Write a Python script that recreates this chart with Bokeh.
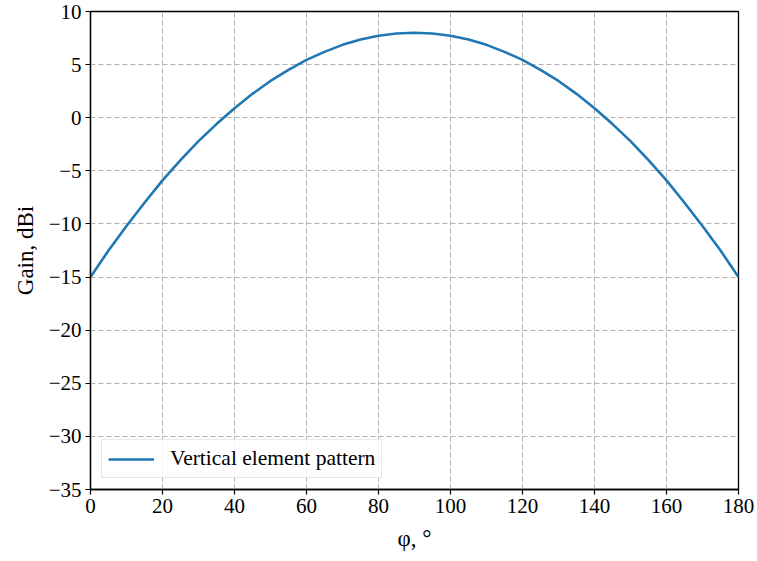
from bokeh.plotting import figure
from bokeh.models import Range1d, FixedTicker, Legend, LegendItem
from bokeh.embed import file_html
from bokeh.resources import INLINE

phi = [0, 5, 10, 15, 20, 25, 30, 35, 40, 45, 50, 55, 60, 65, 70, 75, 80, 85, 90,
       95, 100, 105, 110, 115, 120, 125, 130, 135, 140, 145, 150, 155, 160, 165, 170, 175, 180]
gain = [-15.0, -12.5, -10.2, -8.0, -5.9, -4.0, -2.2, -0.6, 0.9, 2.25, 3.46, 4.5, 5.44, 6.2, 6.86, 7.36, 7.72, 7.93, 8.0,
        7.93, 7.72, 7.36, 6.86, 6.2, 5.44, 4.5, 3.46, 2.25, 0.9, -0.6, -2.2, -4.0, -5.9, -8.0, -10.2, -12.5, -15.0]
x_ticks = [0, 20, 40, 60, 80, 100, 120, 140, 160, 180]
y_ticks = [-35, -30, -25, -20, -15, -10, -5, 0, 5, 10]
series_name = "Vertical element pattern"

FONT = "Liberation Serif"

p = figure(width=757, height=561, output_backend="svg", toolbar_location=None,
           x_range=Range1d(0, 180), y_range=Range1d(-35, 10),
           min_border_left=90, min_border_right=19, min_border_top=11, min_border_bottom=72)
p.outline_line_color = "black"
p.outline_line_width = 1.3
p.background_fill_color = "white"
p.border_fill_color = "white"

r = p.line(phi, gain, line_color="#1f77b4", line_width=2.6)

for ax, ticks in ((p.xaxis, x_ticks), (p.yaxis, y_ticks)):
    ax.ticker = FixedTicker(ticks=ticks)
    ax.major_label_overrides = {t: (str(t).replace("-", "\u2212")) for t in ticks}
    ax.minor_tick_line_color = None
    ax.major_tick_out = 5
    ax.major_tick_in = 0
    ax.major_tick_line_width = 1.2
    ax.axis_line_width = 1.3
    ax.major_label_text_font = FONT
    ax.major_label_text_font_size = "21px"
    ax.major_label_text_color = "black"
    ax.axis_label_text_font = FONT
    ax.axis_label_text_font_size = "23px"
    ax.axis_label_text_font_style = "normal"
    ax.axis_label_text_color = "black"
    ax.major_label_standoff = 4

p.xaxis.axis_label = "\u03c6, \u00b0"
p.yaxis.axis_label = "Gain, dBi"
p.xaxis.axis_label_standoff = 10
p.yaxis.axis_label_standoff = 8

p.grid.grid_line_color = "#b0b0b0"
p.grid.grid_line_dash = "5 3"
p.grid.grid_line_width = 1

legend = Legend(items=[LegendItem(label=series_name, renderers=[r])],
                location="bottom_left")
legend.label_text_font = FONT
legend.label_text_font_size = "21.5px"
legend.label_text_color = "black"
legend.border_line_color = "#d0d0d0"
legend.border_line_width = 1
legend.background_fill_alpha = 0.85
legend.glyph_width = 46
legend.margin = 11
legend.padding = 6
legend.label_standoff = 16
p.add_layout(legend)

open("out.html", "w").write(file_html(p, INLINE))
